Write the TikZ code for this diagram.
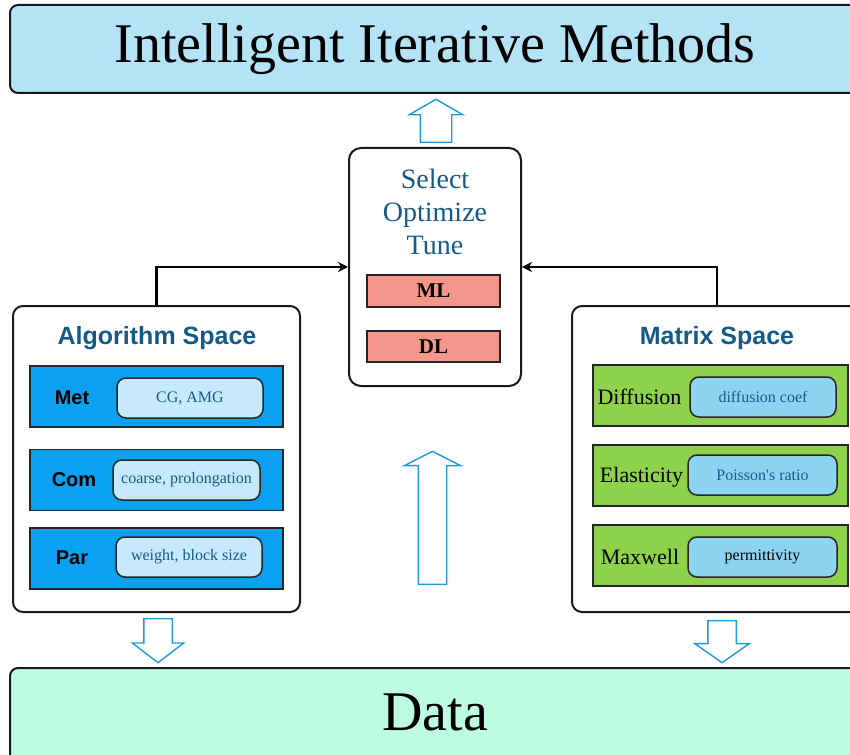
\documentclass[tikz,border=0pt]{standalone}
\usepackage{fontspec}
\setmainfont{Liberation Serif}
\setsansfont{Liberation Sans}
\usetikzlibrary{shapes.arrows,arrows.meta}
\definecolor{titlefill}{HTML}{B3E3F5}
\definecolor{datafill}{HTML}{BDFCE2}
\definecolor{algofill}{HTML}{0AA2F0}
\definecolor{algoinner}{HTML}{C6E9FB}
\definecolor{matfill}{HTML}{8ED14B}
\definecolor{matinner}{HTML}{8DD4F2}
\definecolor{mlfill}{HTML}{F4978A}
\definecolor{headblue}{HTML}{155A86}
\definecolor{arrowblue}{HTML}{1E9BE0}
\begin{document}
\begin{tikzpicture}[x=1pt,y=-1pt,
    box/.style={draw=black!90, line width=2pt, rounded corners=10pt},
    band/.style={draw=black!85, line width=1.4pt, minimum height=61pt, inner sep=0pt},
    inbox/.style={draw=black!85, line width=1.5pt, rounded corners=9pt, minimum height=40pt, inner sep=0pt, font=\fontsize{16}{18}\selectfont},
    rowlabel/.style={font=\sffamily\bfseries\fontsize{20}{22}\selectfont},
    matlabel/.style={font=\fontsize{22}{24}\selectfont},
    spacehead/.style={text=headblue, font=\sffamily\bfseries\fontsize{25}{28}\selectfont},
    blockarrow/.style 2 args={single arrow, draw=arrowblue, fill=white, line width=1.4pt, inner xsep=0pt, inner ysep=#2/2, anchor=tail, minimum height=#1},
    conn/.style={draw=black, line width=2.6pt, -{Stealth[length=10pt,width=10pt]}}]
  \clip (0,0) rectangle (850,754);
  \useasboundingbox (0,0) rectangle (850,754);
  % top and bottom bars
  \node[box, fill=titlefill, rounded corners=8pt, minimum width=850pt, minimum height=88pt,
        font=\fontsize{56}{60}\selectfont] (title) at (435,49) {Intelligent Iterative Methods};
  \node[box, fill=datafill, rounded corners=8pt, minimum width=852pt, minimum height=98pt] (data) at (436,717) {};
  \node[font=\fontsize{56}{60}\selectfont] (datatext) at (435,712) {Data};
  % centre box
  \node[box, fill=white, rounded corners=12pt, minimum width=172pt, minimum height=238pt] (select) at (435,267) {};
  \node[text=headblue, align=center, font=\fontsize{28}{33}\selectfont] (tasks) at (435,212) {Select\\Optimize\\Tune};
  \node[band, fill=mlfill, minimum width=133pt, minimum height=32pt, font=\bfseries\fontsize{21}{23}\selectfont] (ml) at (433.5,291) {ML};
  \node[band, fill=mlfill, minimum width=133pt, minimum height=31pt, font=\bfseries\fontsize{21}{23}\selectfont] (dl) at (433.5,346.5) {DL};
  % algorithm space
  \node[box, fill=white, minimum width=287pt, minimum height=306pt] (algo) at (156.5,459) {};
  \node[spacehead] (algohead) at (157,338) {Algorithm Space};
  \node[band, fill=algofill, minimum width=253pt] (met) at (156.5,396.5) {};
  \node[band, fill=algofill, minimum width=253pt] (com) at (156.5,480) {};
  \node[band, fill=algofill, minimum width=253pt] (par) at (156.5,558.5) {};
  \node[rowlabel] (metlabel) at (72,398) {Met};
  \node[rowlabel] (comlabel) at (74,480) {Com};
  \node[rowlabel] (parlabel) at (72,558) {Par};
  \node[inbox, fill=algoinner, text=headblue, minimum width=146pt] (metval) at (190,398) {CG, AMG};
  \node[inbox, fill=algoinner, text=headblue, minimum width=147pt] (comval) at (186.5,480) {coarse, prolongation};
  \node[inbox, fill=algoinner, text=headblue, minimum width=146pt] (parval) at (189,557) {weight, block size};
  % matrix space
  \node[box, fill=white, minimum width=290pt, minimum height=306pt] (mat) at (717,459) {};
  \node[spacehead] (mathead) at (717,338) {Matrix Space};
  \node[band, fill=matfill, minimum width=255pt] (diff) at (720.5,395.5) {};
  \node[band, fill=matfill, minimum width=255pt] (elas) at (720.5,475.5) {};
  \node[band, fill=matfill, minimum width=255pt] (maxw) at (720.5,555.5) {};
  \node[matlabel] (difflabel) at (639.5,397) {Diffusion};
  \node[matlabel] (elaslabel) at (641.5,477) {Elasticity};
  \node[matlabel] (maxwlabel) at (640,557) {Maxwell};
  \node[inbox, fill=matinner, text=headblue, minimum width=146pt] (diffval) at (763,397) {diffusion coef};
  \node[inbox, fill=matinner, text=headblue, minimum width=149pt] (elasval) at (762.5,475) {Poisson\textquotesingle s ratio};
  \node[inbox, fill=matinner, minimum width=149pt] (maxwval) at (762.5,557) {permittivity};
  % block arrows
  \node[blockarrow={43pt}{30pt}, single arrow head extend=11pt, single arrow tip angle=120, rotate=90] (upsmall) at (436,143) {};
  \node[blockarrow={133pt}{27pt}, single arrow head extend=14pt, single arrow tip angle=126, rotate=90] (upbig) at (432.5,585) {};
  \node[blockarrow={44pt}{27pt}, single arrow head extend=11.5pt, single arrow tip angle=105, rotate=-90] (downleft) at (158,618) {};
  \node[blockarrow={42pt}{27pt}, single arrow head extend=13pt, single arrow tip angle=110, rotate=-90] (downright) at (722,620) {};
  % connectors
  \draw[conn] (algo.north) |- (select.west);
  \draw[conn] (mat.north) |- (select.east);
\end{tikzpicture}
\end{document}
